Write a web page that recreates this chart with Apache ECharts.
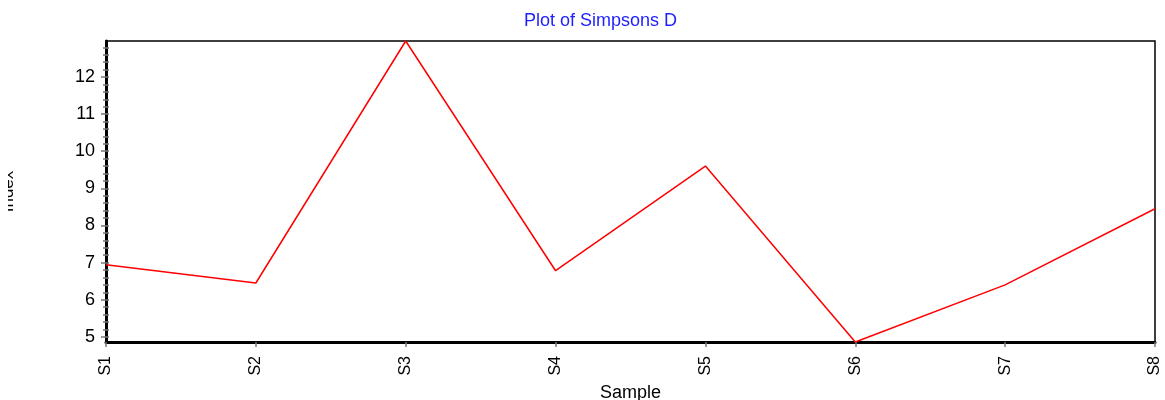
<!DOCTYPE html>
<html><head><meta charset="utf-8">
<script src="https://cdn.jsdelivr.net/npm/echarts@6/dist/echarts.min.js"></script>
<style>html,body{margin:0;padding:0;background:#fff}#c{width:1165px;height:400px}</style>
</head><body><div id="c"></div>
<script>
const categories = ['S1','S2','S3','S4','S5','S6','S7','S8'];
const simpsonsD = [6.94, 6.45, 12.97, 6.78, 9.60, 4.86, 6.40, 8.45];
const yTicks = [5, 6, 7, 8, 9, 10, 11, 12];
const titleText = 'Plot of Simpsons D';
const xName = 'Sample';
const yName = 'Index';

const yMin = Math.min(...simpsonsD), yMax = Math.max(...simpsonsD);
const yMinor = [];
for (let k = Math.ceil(yMin * 5); k <= Math.floor(yMax * 5); k++) {
  if (k % 5 !== 0) yMinor.push(k / 5);
}

const font = 'Liberation Sans, Arial, sans-serif';
const chart = echarts.init(document.getElementById('c'));
chart.setOption({
  animation: false,
  title: { text: titleText, left: 519, top: 7,
    textStyle: { color: '#1e1eff', fontSize: 18, fontWeight: 'normal', fontFamily: font } },
  grid: { left: 106, right: 10, top: 41, bottom: 58, show: true, borderColor: '#000', borderWidth: 1.5,
    containLabel: false, outerBoundsMode: 'none' },
  xAxis: {
    type: 'category', data: categories, boundaryGap: false,
    name: xName, nameLocation: 'middle', nameGap: 42,
    nameTextStyle: { color: '#000', fontSize: 18, fontFamily: font },
    axisLine: { lineStyle: { color: '#000', width: 3 } },
    axisTick: { show: true, length: 5, lineStyle: { color: '#777', width: 1.5 } },
    minorTick: { show: true, splitNumber: 4, length: 4, lineStyle: { color: '#777', width: 1.5 } },
    axisLabel: { rotate: 90, color: '#000', fontSize: 16, fontFamily: font, margin: 14 },
    splitLine: { show: false }
  },
  yAxis: [{
    type: 'value', min: yMin, max: yMax,
    name: yName, nameLocation: 'middle', nameGap: 89, nameRotate: 90,
    nameTextStyle: { color: '#000', fontSize: 17, fontFamily: font },
    axisLine: { show: true, lineStyle: { color: '#000', width: 3 } },
    axisTick: { show: true, length: 5, customValues: yTicks, lineStyle: { color: '#777', width: 1.5 } },
    axisLabel: { color: '#000', fontSize: 18, fontFamily: font, margin: 11, customValues: yTicks },
    splitLine: { show: false }
  }, {
    type: 'value', min: yMin, max: yMax, position: 'left',
    axisLine: { show: false },
    axisTick: { show: true, length: 3, customValues: yMinor, lineStyle: { color: '#777', width: 1.5 } },
    axisLabel: { show: false, customValues: yMinor },
    splitLine: { show: false }
  }, {
    type: 'value', min: yMin, max: yMax, position: 'left', offset: 0,
    axisLine: { show: false },
    axisTick: { show: true, inside: true, length: 3, customValues: yTicks.concat(yMinor), lineStyle: { color: '#777', width: 1.5 } },
    axisLabel: { show: false, customValues: yTicks },
    splitLine: { show: false }
  }],
  graphic: [{ type: 'rect', left: 0, top: 150, shape: { width: 8, height: 80 }, style: { fill: '#fff' }, z: 100 }],
  series: [{
    type: 'line', data: simpsonsD, symbol: 'none',
    lineStyle: { color: '#ff0000', width: 1.5 }
  }]
});
</script></body></html>
